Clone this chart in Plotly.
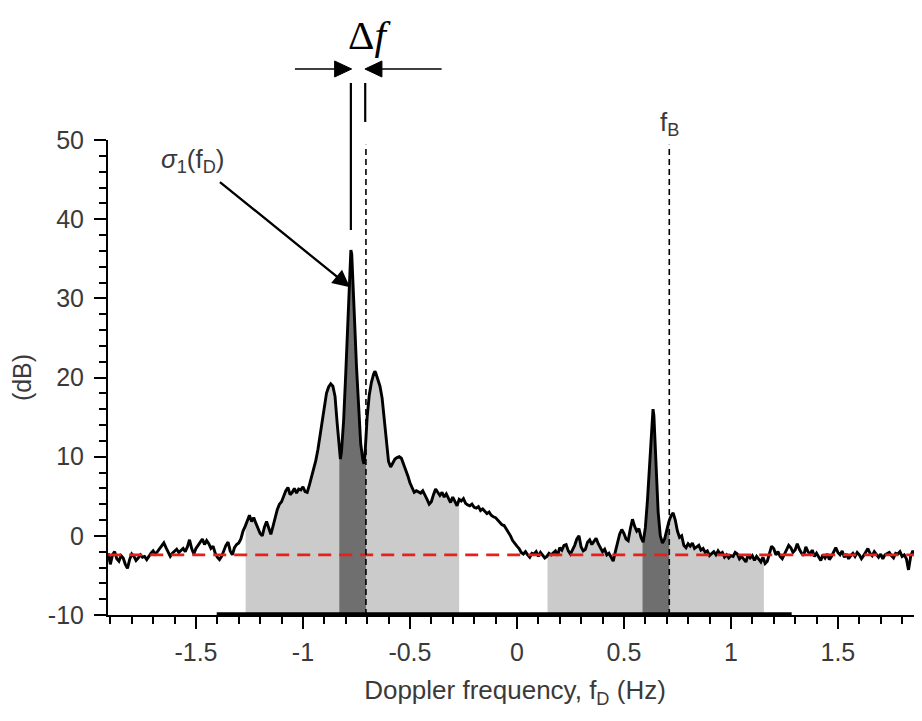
import numpy as np
import plotly.graph_objects as go

# ---------------- data ----------------
freq_hz = [
    -1.91, -1.90, -1.89, -1.88, -1.87, -1.86, -1.85, -1.84, -1.83, -1.82,
    -1.81, -1.80, -1.79, -1.78, -1.77, -1.76, -1.75, -1.74, -1.73, -1.72,
    -1.71, -1.70, -1.69, -1.68, -1.67, -1.66, -1.65, -1.64, -1.63, -1.62,
    -1.61, -1.60, -1.59, -1.58, -1.57, -1.56, -1.55, -1.54, -1.53, -1.52,
    -1.51, -1.50, -1.49, -1.48, -1.47, -1.46, -1.45, -1.44, -1.43, -1.42,
    -1.41, -1.40, -1.39, -1.38, -1.37, -1.36, -1.35, -1.34, -1.33, -1.32,
    -1.31, -1.30, -1.29, -1.28, -1.27, -1.26, -1.25, -1.24, -1.23, -1.22,
    -1.21, -1.20, -1.19, -1.18, -1.17, -1.16, -1.15, -1.14, -1.13, -1.12,
    -1.11, -1.10, -1.09, -1.08, -1.07, -1.06, -1.05, -1.04, -1.03, -1.02,
    -1.01, -1.00, -0.99, -0.98, -0.97, -0.96, -0.95, -0.94, -0.93, -0.92,
    -0.91, -0.90, -0.89, -0.88, -0.87, -0.86, -0.85, -0.84, -0.83, -0.825,
    -0.82, -0.81, -0.80, -0.79, -0.785, -0.78, -0.776, -0.772, -0.768, -0.76,
    -0.75, -0.74, -0.73, -0.72, -0.715, -0.71, -0.70, -0.69, -0.68, -0.67,
    -0.664, -0.66, -0.65, -0.64, -0.63, -0.62, -0.61, -0.60, -0.59, -0.58,
    -0.57, -0.56, -0.55, -0.54, -0.53, -0.52, -0.51, -0.50, -0.49, -0.48,
    -0.47, -0.46, -0.45, -0.44, -0.43, -0.42, -0.41, -0.40, -0.39, -0.38,
    -0.37, -0.36, -0.35, -0.34, -0.33, -0.32, -0.31, -0.30, -0.29, -0.28,
    -0.27, -0.26, -0.25, -0.24, -0.23, -0.22, -0.21, -0.20, -0.19, -0.18,
    -0.17, -0.16, -0.15, -0.14, -0.13, -0.12, -0.11, -0.10, -0.09, -0.08,
    -0.07, -0.06, -0.05, -0.04, -0.03, -0.02, -0.01, 0.00, 0.01, 0.02,
    0.03, 0.04, 0.05, 0.06, 0.07, 0.08, 0.09, 0.10, 0.11, 0.12,
    0.13, 0.14, 0.15, 0.16, 0.17, 0.18, 0.19, 0.20, 0.21, 0.22,
    0.23, 0.24, 0.25, 0.26, 0.27, 0.28, 0.29, 0.30, 0.31, 0.32,
    0.33, 0.34, 0.35, 0.36, 0.37, 0.38, 0.39, 0.40, 0.41, 0.42,
    0.43, 0.44, 0.45, 0.46, 0.47, 0.48, 0.49, 0.50, 0.51, 0.52,
    0.53, 0.54, 0.55, 0.56, 0.57, 0.58, 0.59, 0.60, 0.61, 0.62,
    0.63, 0.636, 0.64, 0.65, 0.66, 0.67, 0.68, 0.69, 0.70, 0.71,
    0.72, 0.73, 0.74, 0.75, 0.76, 0.77, 0.78, 0.79, 0.80, 0.81,
    0.82, 0.83, 0.84, 0.85, 0.86, 0.87, 0.88, 0.89, 0.90, 0.91,
    0.92, 0.93, 0.94, 0.95, 0.96, 0.97, 0.98, 0.99, 1.00, 1.01,
    1.02, 1.03, 1.04, 1.05, 1.06, 1.07, 1.08, 1.09, 1.10, 1.11,
    1.12, 1.13, 1.14, 1.15, 1.16, 1.17, 1.18, 1.19, 1.20, 1.21,
    1.22, 1.23, 1.24, 1.25, 1.26, 1.27, 1.28, 1.29, 1.30, 1.31,
    1.32, 1.33, 1.34, 1.35, 1.36, 1.37, 1.38, 1.39, 1.40, 1.41,
    1.42, 1.43, 1.44, 1.45, 1.46, 1.47, 1.48, 1.49, 1.50, 1.51,
    1.52, 1.53, 1.54, 1.55, 1.56, 1.57, 1.58, 1.59, 1.60, 1.61,
    1.62, 1.63, 1.64, 1.65, 1.66, 1.67, 1.68, 1.69, 1.70, 1.71,
    1.72, 1.73, 1.74, 1.75, 1.76, 1.77, 1.78, 1.79, 1.80, 1.81,
    1.82, 1.83, 1.84, 1.85, 1.86, 1.87, 1.88, 1.89,
]

level_db = [
    -2.2, -3.6, -2.4, -2.0, -2.9, -3.2, -2.5, -2.8, -3.6, -4.1,
    -3.0, -2.3, -2.6, -3.1, -2.8, -2.4, -2.7, -2.6, -3.0, -2.5,
    -2.2, -1.9, -2.3, -2.0, -1.6, -1.3, -0.9, -1.5, -2.1, -2.6,
    -2.2, -1.9, -1.7, -2.1, -1.8, -1.6, -2.0, -1.4, -0.5, -1.6,
    -2.3, -1.6, -1.2, -0.7, -0.4, -1.1, -0.6, -1.0, -1.6, -1.3,
    -2.2, -2.7, -3.0, -2.6, -1.8, -1.2, -0.8, -1.9, -2.4, -1.5,
    -1.1, -0.9, -0.4, 0.6, 1.2, 2.0, 2.6, 1.8, 2.3, 1.6,
    1.0, 0.3, 0.0, 1.1, 1.8, 0.9, 0.2, 1.2, 2.4, 3.3,
    4.0, 4.3, 5.0, 5.7, 6.1, 5.2, 5.5, 6.0, 5.4, 5.9,
    5.8, 6.2, 5.6, 5.5, 6.4, 7.4, 8.4, 9.5, 10.9, 12.6,
    14.4, 16.4, 18.0, 18.8, 19.2, 18.9, 17.6, 14.2, 10.4, 9.7,
    10.6, 14.5, 20.5, 27.5, 32.0, 35.2, 36.1, 35.6, 33.5, 28.0,
    21.5, 15.5, 11.6, 9.6, 9.1, 10.3, 15.0, 17.8, 19.4, 20.4,
    20.8, 20.6, 19.7, 18.9, 17.4, 14.8, 11.6, 9.4, 8.7, 9.2,
    9.7, 9.9, 10.0, 9.8, 9.1, 8.4, 7.6, 6.7, 6.0, 5.5,
    5.7, 5.6, 5.4, 5.7, 5.2, 4.6, 4.0, 4.3, 5.2, 5.9,
    5.5, 5.1, 5.5, 4.9, 5.3, 4.8, 4.2, 4.9, 4.4, 3.8,
    4.6, 4.4, 4.7, 4.1, 3.9, 3.8, 4.0, 3.6, 3.5, 3.7,
    3.2, 3.4, 3.1, 2.8, 3.0, 2.6, 2.4, 2.3, 2.0, 1.7,
    1.4, 1.3, 0.9, 0.4, 0.0, -0.6, -1.0, -1.3, -1.6, -2.1,
    -2.3, -2.0, -2.4, -2.7, -2.2, -2.3, -2.0, -2.6, -2.1, -2.5,
    -2.8, -2.6, -2.2, -2.4, -2.2, -1.9, -2.5, -1.5, -1.8, -1.2,
    -1.1, -1.9, -2.3, -1.8, -1.2, -0.4, 0.0, -1.4, -1.9, -1.7,
    -0.8, -0.5, -1.1, -0.7, -0.3, -1.0, -1.6, -2.0, -1.7, -2.4,
    -2.2, -2.8, -3.2, -2.0, -0.8, 0.2, 0.8, 0.3, -0.4, -0.6,
    0.9, 2.1, 1.2, 0.6, 0.9, -0.2, -0.8, 1.0, 4.5, 9.5,
    14.5, 16.0, 15.2, 9.0, 3.0, 0.0, -0.9, -0.4, 0.8, 1.8,
    2.5, 2.9, 2.0, 0.6, -0.2, 0.0, -1.2, -1.5, -1.0, -1.3,
    -0.9, -1.6, -1.4, -1.2, -1.8, -1.6, -2.1, -1.9, -2.5, -2.2,
    -2.0, -2.4, -1.9, -2.3, -2.1, -2.7, -2.4, -2.8, -2.5, -2.6,
    -2.1, -2.3, -2.9, -2.6, -3.0, -3.3, -2.4, -2.8, -2.5, -3.1,
    -2.6, -2.9, -3.3, -2.7, -3.5, -3.2, -2.2, -1.3, -1.6, -2.4,
    -2.0, -2.6, -2.9, -2.3, -1.6, -1.2, -1.5, -2.1, -1.8, -1.0,
    -1.7, -2.2, -2.5, -1.4, -2.0, -2.3, -1.8, -2.6, -2.2, -2.7,
    -3.1, -2.4, -2.8, -2.3, -3.0, -2.6, -2.0, -1.5, -2.1, -2.4,
    -1.9, -2.7, -2.3, -2.9, -2.5, -2.2, -2.6, -2.1, -2.4, -2.9,
    -2.5, -2.0, -1.6, -2.2, -2.5, -2.0, -2.4, -2.7, -2.3, -2.9,
    -2.4, -2.2, -2.1, -2.5, -2.8, -2.2, -2.3, -2.0, -2.6, -2.4,
    -2.9, -4.3, -2.6, -1.9, -2.4, -2.2, -2.7, -2.5,
]

noise_floor_db = -2.4

# shaded bands [start, end] in Hz
light_bands = [(-1.268, -0.270), (0.143, 1.154)]
dark_bands = [(-0.830, -0.7056), (0.587, 0.712)]

bragg_lines_hz = [-0.7056, 0.712]
sigma_peak_hz = -0.776
doppler_span_hz = (-1.403, 1.284)

x_tickvals = [-1.5, -1, -0.5, 0, 0.5, 1, 1.5]
x_ticktext = ["-1.5", "-1", "-0.5", "0", "0.5", "1", "1.5"]
y_tickvals = [-10, 0, 10, 20, 30, 40, 50]
y_ticktext = ["-10", "0", "10", "20", "30", "40", "50"]

# ---------------- figure ----------------
fx = np.array(freq_hz)
fy = np.array(level_db)

# plot geometry (page offset of 8 px from the HTML body margin is compensated)
FIG_W, FIG_H = 914, 713
M_L, M_R, M_T, M_B = 100, 0, 132, 106
PLOT_W = FIG_W - M_L - M_R
PLOT_H = FIG_H - M_T - M_B
X_RANGE = [-1.911, 1.893]
PX_PER_HZ = PLOT_W / (X_RANGE[1] - X_RANGE[0])

fig = go.Figure()


def band_trace(a, b, color):
    mask = (fx > a) & (fx < b)
    ya = float(np.interp(a, fx, fy))
    yb = float(np.interp(b, fx, fy))
    xs = [a] + list(fx[mask]) + [b, b, a, a]
    ys = [ya] + list(fy[mask]) + [yb, -10, -10, ya]
    return go.Scatter(x=xs, y=ys, mode="lines", fill="toself",
                      fillcolor=color, line=dict(width=0),
                      hoverinfo="skip", showlegend=False)


for a, b in light_bands:
    fig.add_trace(band_trace(a, b, "#cbcbcb"))
for a, b in dark_bands:
    fig.add_trace(band_trace(a, b, "#6f6f6f"))

fig.add_trace(go.Scatter(x=freq_hz, y=level_db, mode="lines",
                         line=dict(color="black", width=2.9),
                         showlegend=False))

fig.add_trace(go.Scatter(x=[freq_hz[0], freq_hz[-1]],
                         y=[noise_floor_db, noise_floor_db], mode="lines",
                         line=dict(color="#e8201c", width=2.6, dash="13px,8px"),
                         showlegend=False))

TXT = "#3a3a3a"
FONT = "Liberation Sans, Arial, sans-serif"

# vertical dashed lines
for xv in bragg_lines_hz:
    fig.add_shape(type="line", xref="x", yref="y", x0=xv, x1=xv, y0=-10, y1=49.4,
                  line=dict(color="black", width=1.6, dash="6px,4px"))

# delta-f guide lines above the axes
fig.add_shape(type="line", xref="x", yref="paper", x0=sigma_peak_hz, x1=sigma_peak_hz,
              y0=0.8105, y1=1.12, line=dict(color="black", width=2.2))
fig.add_shape(type="line", xref="x", yref="paper", x0=-0.709, x1=-0.709,
              y0=1.038, y1=1.12, line=dict(color="black", width=2.2))

# horizontal delta-f arrows (line + filled head)
ARROW_Y = 1.1495
HEAD_L = 17 / PX_PER_HZ
HEAD_H = 8 / PLOT_H
for tip, tail, sgn in [(-0.7724, -1.0374, 1), (-0.7103, -0.3519, -1)]:
    base = tip - sgn * HEAD_L
    fig.add_shape(type="line", xref="x", yref="paper", x0=tail, x1=base,
                  y0=ARROW_Y, y1=ARROW_Y, line=dict(color="black", width=1.6))
    fig.add_shape(type="path", xref="x", yref="paper",
                  path=f"M {tip} {ARROW_Y} L {base} {ARROW_Y + HEAD_H} "
                       f"L {base} {ARROW_Y - HEAD_H} Z",
                  fillcolor="black", line=dict(color="black", width=1))

# thick line on the x axis
fig.add_shape(type="line", xref="x", yref="paper", x0=doppler_span_hz[0],
              x1=doppler_span_hz[1], y0=0.002, y1=0.002,
              line=dict(color="black", width=3.5))

annotations = [
    dict(x=-0.687, y=1.222, xref="x", yref="paper", text="Δ<i>f</i>",
         xanchor="center", yanchor="middle", showarrow=False,
         font=dict(family="Liberation Serif, serif", size=41, color="black")),
    dict(x=-0.780, y=31.4, xref="x", yref="y",
         text="<i>σ</i><sub>1</sub>(f<sub>D</sub>)", showarrow=True,
         ax=-157, ay=-127, axref="pixel", ayref="pixel", arrowhead=2, arrowsize=1.5,
         arrowwidth=2.3, arrowcolor="black", startstandoff=6,
         xanchor="center", yanchor="middle",
         font=dict(family=FONT, size=26, color=TXT)),
    dict(x=0.712, y=1.035, xref="x", yref="paper", text="f<sub>B</sub>",
         xanchor="center", yanchor="middle",
         showarrow=False, font=dict(family=FONT, size=26, color=TXT)),
]

fig.update_layout(
    width=FIG_W, height=FIG_H,
    margin=dict(l=M_L, r=M_R, t=M_T, b=M_B),
    paper_bgcolor="white", plot_bgcolor="white",
    font=dict(family=FONT, size=25, color=TXT),
    annotations=annotations,
    showlegend=False,
)

fig.update_xaxes(
    range=X_RANGE, showgrid=False, zeroline=False,
    showline=True, linecolor="black", linewidth=2,
    tickmode="array", tickvals=x_tickvals, ticktext=x_ticktext,
    ticks="outside", ticklen=12, tickwidth=2, tickcolor="black",
    minor=dict(tickmode="linear", tick0=0, dtick=0.1, ticks="outside",
               ticklen=7, tickwidth=2, tickcolor="black"),
    tickfont=dict(size=25, color=TXT), ticklabelstandoff=2,
    title=dict(text="Doppler frequency, f<sub>D</sub> (Hz)",
               font=dict(size=26, color=TXT), standoff=16),
)
fig.update_yaxes(
    range=[-10, 50], showgrid=False, zeroline=False,
    showline=True, linecolor="black", linewidth=2,
    tickmode="array", tickvals=y_tickvals, ticktext=y_ticktext,
    ticks="outside", ticklen=12, tickwidth=2, tickcolor="black",
    minor=dict(tickmode="linear", tick0=0, dtick=2, ticks="outside",
               ticklen=7, tickwidth=2, tickcolor="black"),
    tickfont=dict(size=25, color=TXT), ticklabelstandoff=5,
    title=dict(text="(dB)", font=dict(size=25, color=TXT), standoff=10),
)

fig.write_html("out.html")
